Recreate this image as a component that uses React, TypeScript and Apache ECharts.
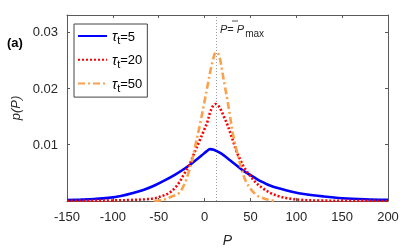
import React, { useEffect, useRef } from "react";
import * as echarts from "echarts";

const xTicks = [-150, -100, -50, 0, 50, 100, 150, 200];
const yTickLabels = [0.01, 0.02, 0.03];
const tauValues = [5, 20, 50];
const pMax = 13;

const tau5P = [-150, -135, -120, -105, -90, -78, -66, -54, -43, -32, -24, -17, -10, -3, 2, 6, 10, 15, 21, 28, 35, 42, 50, 57, 64, 72, 82, 94, 110, 130, 150, 175, 200];
const tau5V = [0.00017, 0.00025, 0.00036, 0.00055, 0.00092, 0.0014, 0.002, 0.0028, 0.0037, 0.0047, 0.0055, 0.0063, 0.0072, 0.0081, 0.0088, 0.0092, 0.0091, 0.0087, 0.0081, 0.0072, 0.0063, 0.0054, 0.0046, 0.0039, 0.0033, 0.0027, 0.0022, 0.0017, 0.0012, 0.0008, 0.0005, 0.0003, 0.0002];

const tau20P = [-150, -125, -100, -80, -65, -54, -46, -39, -33, -28, -23, -17, -12, -6, -1, 3, 6, 9, 12, 15, 18, 21, 25, 28, 32, 35, 39, 43, 50, 57, 64, 72, 80, 90, 105, 125, 160, 200];
const tau20V = [0.00003, 0.00005, 0.0001, 0.00018, 0.0003, 0.0005, 0.0009, 0.0014, 0.0022, 0.0032, 0.0046, 0.0063, 0.0082, 0.0105, 0.0124, 0.014, 0.0157, 0.0168, 0.0172, 0.0169, 0.0161, 0.015, 0.0135, 0.0121, 0.0102, 0.0087, 0.0073, 0.006, 0.0044, 0.0031, 0.0022, 0.0014, 0.0009, 0.0005, 0.0002, 0.00008, 0.00003, 0.00001];

const tau50P = [-55, -45, -37, -28, -22, -17, -13, -10, -5, 0, 4, 7, 9, 11, 13, 15, 17, 19, 22, 25, 28, 31, 35, 38, 41, 45, 50, 57, 64, 70, 78];
const tau50V = [0, 0.0002, 0.0007, 0.0014, 0.003, 0.0053, 0.0076, 0.0099, 0.0136, 0.0177, 0.0211, 0.0236, 0.0249, 0.0261, 0.0264, 0.0261, 0.0251, 0.0232, 0.0205, 0.0178, 0.0148, 0.0118, 0.0089, 0.007, 0.0053, 0.0035, 0.0022, 0.001, 0.0005, 0.0002, 0];

const seriesP = [tau5P, tau20P, tau50P];
const seriesV = [tau5V, tau20V, tau50V];
const colors = ["#0000FF", "#FF0000", "#FCA04C"];
const dashes: any[] = ["solid", [2, 2], [7, 3, 2, 3]];

const FONT = "Liberation Sans";
const AXIS_COLOR = "#5a5a5a";

export default function App() {
  const ref = useRef<HTMLDivElement>(null);
  useEffect(() => {
    if (!ref.current) return;
    const chart = echarts.init(ref.current, undefined, { renderer: "svg" });
    const names = tauValues.map((t) => `τt=${t}`);
    const series: any[] = tauValues.map((t, i) => ({
      name: names[i],
      type: "line",
      data: seriesP[i].map((p, k) => [p, seriesV[i][k]]),
      symbol: "none",
      smooth: 0.35,
      lineStyle: { color: colors[i], width: 2.6, type: dashes[i], cap: "butt" },
      itemStyle: { color: colors[i] },
      z: 3 + i,
    }));
    series.push({
      name: "Pmax",
      type: "line",
      data: [
        [pMax, 0],
        [pMax, 0.033],
      ],
      symbol: "none",
      lineStyle: { color: "#9a9a9a", width: 1, type: [1, 2] },
      z: 10,
      silent: true,
    });
    const tickCommon = { inside: true, length: 3, lineStyle: { color: AXIS_COLOR } };
    chart.setOption({
      animation: false,
      textStyle: { fontFamily: FONT },
      grid: { left: 67, right: 27, top: 15, bottom: 44 },
      xAxis: [
        {
          type: "value",
          min: -150,
          max: 200,
          interval: 50,
          axisLine: { onZero: false, lineStyle: { color: AXIS_COLOR } },
          axisTick: tickCommon,
          splitLine: { show: false },
          axisLabel: {
            color: "#262626",
            fontSize: 13,
            margin: 9,
            fontFamily: FONT,
            formatter: (v: number) => (xTicks.includes(v) ? String(v) : ""),
          },
          name: "P",
          nameLocation: "middle",
          nameGap: 32,
          nameTextStyle: { color: "#262626", fontSize: 14, fontStyle: "italic", fontFamily: FONT },
        },
        {
          type: "value",
          position: "top",
          min: -150,
          max: 200,
          interval: 50,
          axisLine: { show: true, onZero: false, lineStyle: { color: AXIS_COLOR } },
          axisTick: tickCommon,
          axisLabel: { show: false },
          splitLine: { show: false },
        },
      ],
      yAxis: [
        {
          type: "value",
          min: 0,
          max: 0.033,
          interval: 0.01,
          axisLine: { show: true, onZero: false, lineStyle: { color: AXIS_COLOR } },
          axisTick: tickCommon,
          splitLine: { show: false },
          axisLabel: {
            color: "#262626",
            fontSize: 13,
            margin: 9,
            fontFamily: FONT,
            formatter: (v: number) => {
              const hit = yTickLabels.find((t) => Math.abs(t - v) < 1e-9);
              return hit !== undefined ? hit.toFixed(2) : "";
            },
          },
          name: "p(P)",
          nameLocation: "middle",
          nameGap: 30,
          nameTextStyle: {
            color: "#262626",
            fontSize: 13,
            fontFamily: FONT,
            fontStyle: "italic",
          },
        },
        {
          type: "value",
          position: "right",
          min: 0,
          max: 0.033,
          interval: 0.01,
          axisLine: { show: true, onZero: false, lineStyle: { color: AXIS_COLOR } },
          axisTick: tickCommon,
          axisLabel: { show: false },
          splitLine: { show: false },
        },
      ],
      legend: {
        data: names,
        orient: "vertical",
        left: 74,
        top: 24,
        padding: [5, 5, 4, 3],
        itemGap: 7.3,
        itemWidth: 29,
        itemHeight: 16,
        itemStyle: { opacity: 0 },
        backgroundColor: "#fff",
        borderColor: "#444",
        borderWidth: 1,
        borderRadius: 0,
        formatter: (name: string) => {
          const n = name.split("=")[1];
          return `{tau|τ}{sub|t}{n|=${n}}`;
        },
        textStyle: {
          color: "#000",
          fontSize: 13,
          fontFamily: FONT,
          rich: {
            tau: { fontSize: 14, fontStyle: "italic", fontFamily: FONT, color: "#000" },
            sub: { fontSize: 11, fontFamily: FONT, color: "#000", padding: [8, 0, 0, 0] },
            n: { fontSize: 13, fontFamily: FONT, color: "#000" },
          },
        },
      },
      graphic: [
        {
          type: "text",
          left: 7,
          top: 36,
          style: { text: "(a)", font: `bold 13px ${FONT}`, fill: "#000" },
        },
        {
          type: "text",
          x: 220,
          y: 20,
          style: {
            text: "{i|P}= {i|P}{s|max}",
            fill: "#262626",
            font: `11px ${FONT}`,
            rich: {
              i: { fontStyle: "italic", fontSize: 11, fontFamily: FONT, fill: "#262626" },
              s: { fontSize: 10, fontFamily: FONT, fill: "#262626", padding: [8, 0, 0, 1] },
            },
          },
          z: 20,
        },
        {
          type: "line",
          shape: { x1: 232, y1: 21, x2: 238, y2: 21 },
          style: { stroke: "#262626", lineWidth: 0.8 },
          z: 20,
        },
      ],
      series,
    });
    return () => chart.dispose();
  }, []);
  return <div ref={ref} style={{ position: "fixed", left: 0, top: 0, width: 415, height: 252 }} />;
}
